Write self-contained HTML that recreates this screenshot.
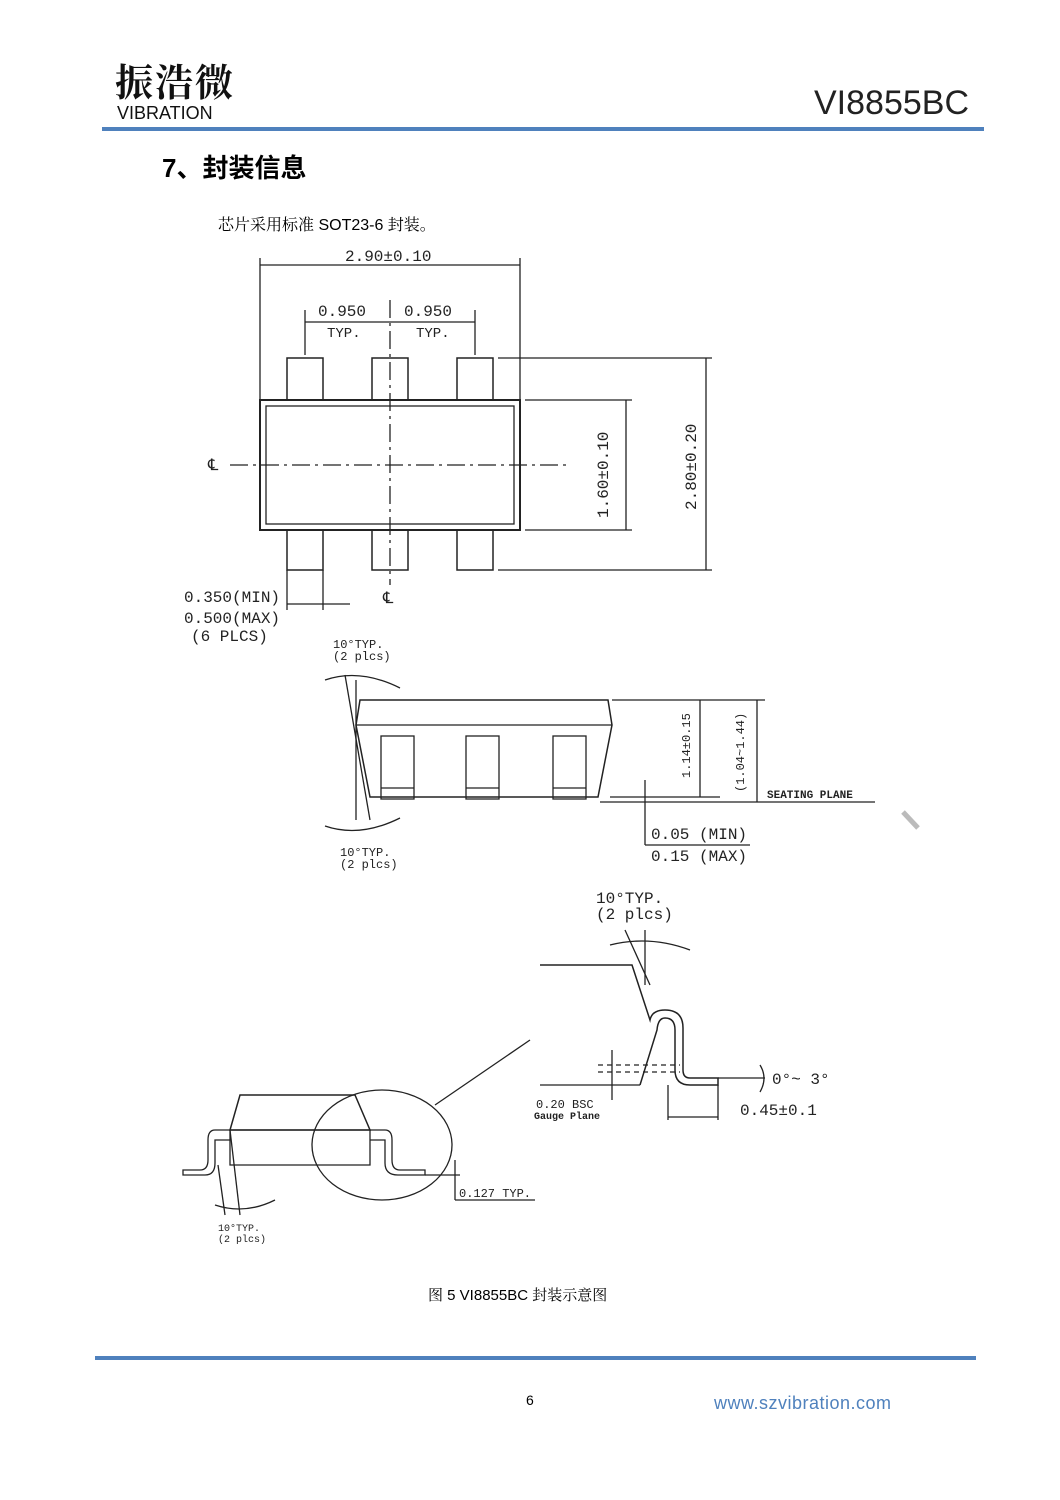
<!DOCTYPE html>
<html><head><meta charset="utf-8"><style>
html,body{margin:0;padding:0;background:#fff;}
body{width:1060px;height:1500px;position:relative;overflow:hidden;font-family:"Liberation Sans","Noto Sans CJK SC",sans-serif;}
.a{position:absolute;white-space:nowrap;}
</style></head><body>
<div class="a" style="left:115px;top:52px;font-family:'Noto Serif CJK SC','WenQuanYi Zen Hei',serif;font-size:38px;font-weight:bold;letter-spacing:2px;color:#111;">振浩微</div>
<div class="a" style="left:117px;top:103px;font-size:18px;letter-spacing:0px;color:#111;">VIBRATION</div>
<div class="a" style="left:814px;top:84px;font-size:34px;color:#222;">VI8855BC</div>
<div class="a" style="left:102px;top:127px;width:882px;height:4px;background:#4f81bd;"></div>
<div class="a" style="left:162px;top:148px;font-size:26px;font-weight:bold;">7、封装信息</div>
<div class="a" style="left:218px;top:212px;font-size:16px;font-family:'Liberation Sans','Noto Serif CJK SC',serif;">芯片采用标准 SOT23-6 封装。</div>
<svg class="a" style="left:0;top:0" width="1060" height="1500" fill="none" stroke="#222" stroke-width="1.3">
<rect x="260" y="400" width="260" height="130" stroke-width="2"/>
<rect x="266" y="406" width="248" height="118"/>
<g stroke-width="1.5">
<rect x="287" y="358" width="36" height="42"/><rect x="372" y="358" width="36" height="42"/><rect x="457" y="358" width="36" height="42"/>
<rect x="287" y="530" width="36" height="40"/><rect x="372" y="530" width="36" height="40"/><rect x="457" y="530" width="36" height="40"/>
</g>
<line x1="230" y1="465" x2="570" y2="465" stroke-dasharray="18,5,3,5"/>
<line x1="390" y1="300" x2="390" y2="585" stroke-dasharray="18,5,3,5"/>
<line x1="260" y1="258" x2="260" y2="400"/><line x1="520" y1="258" x2="520" y2="400"/>
<line x1="260" y1="265" x2="520" y2="265"/>
<line x1="305" y1="310" x2="305" y2="355"/><line x1="475" y1="310" x2="475" y2="355"/>
<line x1="305" y1="322" x2="475" y2="322"/>
<line x1="498" y1="358" x2="712" y2="358"/><line x1="498" y1="570" x2="712" y2="570"/>
<line x1="706" y1="358" x2="706" y2="570"/>
<line x1="525" y1="400" x2="632" y2="400"/><line x1="525" y1="530" x2="632" y2="530"/>
<line x1="626" y1="400" x2="626" y2="530"/>
<line x1="287" y1="570" x2="287" y2="610"/><line x1="323" y1="570" x2="323" y2="610"/>
<line x1="287" y1="604" x2="350" y2="604"/>
<polygon points="360,700 608,700 612,725 598,797 370,797 356,725" stroke-width="1.5"/>
<line x1="356" y1="725" x2="612" y2="725"/>
<rect x="381" y="736" width="33" height="63"/><rect x="466" y="736" width="33" height="63"/><rect x="553" y="736" width="33" height="63"/>
<line x1="381" y1="788" x2="414" y2="788"/><line x1="466" y1="788" x2="499" y2="788"/><line x1="553" y1="788" x2="586" y2="788"/>
<line x1="612" y1="700" x2="765" y2="700"/><line x1="610" y1="797" x2="720" y2="797"/>
<line x1="600" y1="802" x2="875" y2="802"/>
<line x1="700" y1="700" x2="700" y2="797"/><line x1="757" y1="700" x2="757" y2="802"/>
<line x1="645" y1="780" x2="645" y2="845"/><line x1="645" y1="845" x2="750" y2="845"/>
<line x1="356" y1="680" x2="356" y2="820"/>
<path d="M325,680 Q360,668 400,688"/><path d="M325,826 Q360,838 400,818"/>
<line x1="345" y1="675" x2="370" y2="820"/>
<line x1="903" y1="812" x2="918" y2="828" stroke="#bbb" stroke-width="5"/>
<path d="M540,965 L632,965 L650,1020 Q652,1010 665,1010 Q683,1010 683,1028 L683,1070 Q683,1078 690,1078 L718,1078 L718,1085 L690,1085 Q675,1085 675,1070 L675,1030 Q675,1018 665,1018 Q658,1018 657,1030 L640,1085" stroke-width="1.5"/>
<line x1="540" y1="1085" x2="640" y2="1085"/>
<line x1="598" y1="1065" x2="680" y2="1065" stroke-dasharray="5,4"/>
<line x1="598" y1="1072" x2="680" y2="1072" stroke-dasharray="5,4"/>
<line x1="612" y1="1050" x2="612" y2="1100"/>
<line x1="668" y1="1085" x2="668" y2="1120"/><line x1="718" y1="1085" x2="718" y2="1120"/>
<line x1="668" y1="1117" x2="718" y2="1117"/>
<line x1="718" y1="1078" x2="765" y2="1078"/>
<path d="M760,1065 Q768,1078 760,1092"/>
<line x1="625" y1="930" x2="650" y2="985"/><line x1="645" y1="930" x2="645" y2="985"/>
<path d="M610,945 Q650,935 690,950"/>
<polygon points="230,1130 370,1130 355,1095 240,1095" stroke-width="1.5"/>
<polygon points="230,1130 370,1130 370,1165 230,1165"/>
<path d="M230,1130 L215,1130 Q208,1130 208,1140 L208,1160 Q208,1170 200,1170 L183,1170 L183,1175 L205,1175 Q215,1175 215,1163 L215,1140 L230,1140"/>
<path d="M370,1130 L385,1130 Q392,1130 392,1140 L392,1160 Q392,1170 400,1170 L425,1170 L425,1175 L398,1175 Q385,1175 385,1163 L385,1140 L370,1140"/>
<ellipse cx="382" cy="1145" rx="70" ry="55"/>
<line x1="435" y1="1105" x2="530" y2="1040"/>
<line x1="425" y1="1175" x2="460" y2="1175"/><line x1="455" y1="1160" x2="455" y2="1200"/><line x1="455" y1="1200" x2="535" y2="1200"/>
<line x1="230" y1="1130" x2="240" y2="1215"/><line x1="218" y1="1165" x2="225" y2="1215"/>
<path d="M215,1205 Q245,1215 275,1200"/>
</svg>
<svg class="a" style="left:0;top:0" width="1060" height="1500" font-family="Liberation Mono, monospace" fill="#222" font-size="16">
<text x="345" y="261">2.90±0.10</text>
<text x="318" y="316">0.950</text><text x="404" y="316">0.950</text>
<text x="327" y="337" font-size="14">TYP.</text><text x="416" y="337" font-size="14">TYP.</text>
<text x="208" y="470" font-size="16">℄</text><text x="383" y="603">℄</text>
<text x="608" y="518" transform="rotate(-90 608 518)">1.60±0.10</text>
<text x="696" y="510" transform="rotate(-90 696 510)">2.80±0.20</text>
<text x="184" y="602">0.350(MIN)</text><text x="184" y="623">0.500(MAX)</text><text x="191" y="641">(6 PLCS)</text>
<text x="333" y="648" font-size="12">10°TYP.</text><text x="333" y="660" font-size="12">(2 plcs)</text>
<text x="340" y="856" font-size="12">10°TYP.</text><text x="340" y="868" font-size="12">(2 plcs)</text>
<text x="690" y="778" font-size="12" transform="rotate(-90 690 778)">1.14±0.15</text>
<text x="744" y="792" font-size="12" transform="rotate(-90 744 792)">(1.04~1.44)</text>
<text x="767" y="798" font-size="11" font-weight="bold">SEATING PLANE</text>
<text x="651" y="839">0.05 (MIN)</text><text x="651" y="861">0.15 (MAX)</text>
<text x="596" y="903">10°TYP.</text><text x="596" y="919">(2 plcs)</text>
<text x="772" y="1084">0°~ 3°</text>
<text x="536" y="1108" font-size="12">0.20 BSC</text><text x="534" y="1119" font-size="10" font-weight="bold">Gauge Plane</text>
<text x="740" y="1115">0.45±0.1</text>
<text x="459" y="1197" font-size="12">0.127 TYP.</text>
<text x="218" y="1231" font-size="10">10°TYP.</text><text x="218" y="1242" font-size="10">(2 plcs)</text>
</svg>
<div class="a" style="left:428px;top:1284px;font-size:15px;font-family:'Liberation Sans','Noto Serif CJK SC',serif;">图 5 VI8855BC 封装示意图</div>
<div class="a" style="left:95px;top:1356px;width:881px;height:4px;background:#4f81bd;"></div>
<div class="a" style="left:526px;top:1392px;font-size:14px;">6</div>
<div class="a" style="left:714px;top:1393px;font-size:18px;color:#4f81bd;letter-spacing:0.5px;">www.szvibration.com</div>
</body></html>
